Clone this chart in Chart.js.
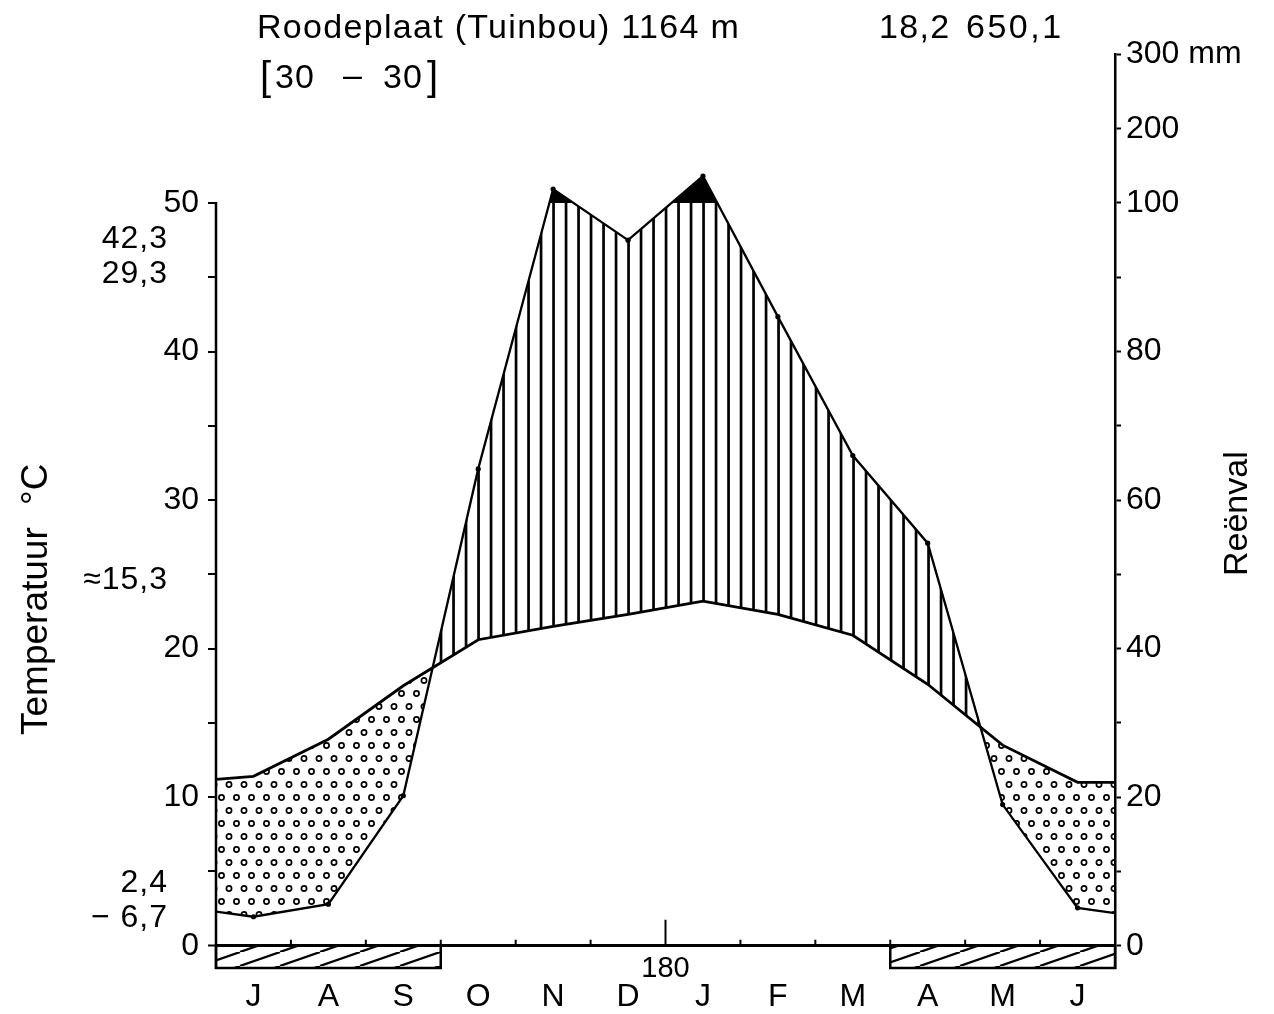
<!DOCTYPE html>
<html>
<head>
<meta charset="utf-8">
<script src="https://cdn.jsdelivr.net/npm/chart.js@4.4.1/dist/chart.umd.min.js"></script>
<style>
  html, body { margin: 0; padding: 0; background: #fff; }
  canvas { display: block; }
</style>
</head>
<body>
<canvas id="klimaat" width="1274" height="1014"></canvas>
<script>
// Klimaatdiagram Roodeplaat (Tuinbou) — Walter-Lieth style, July to June
const months = ['J', 'A', 'S', 'O', 'N', 'D', 'J', 'F', 'M', 'A', 'M', 'J'];
const temperature = [11.4, 13.9, 17.5, 20.6, 21.5, 22.3, 23.2, 22.3, 20.9, 17.6, 13.5, 11.0];   // °C
const temperatureEdges = [11.2, 11.0];                                                              // start / end of year
const precipitation = [3.9, 5.6, 20.2, 64.2, 118.8, 95.0, 136.3, 84.7, 66.0, 54.2, 19.0, 5.1];    // mm
const precipitationEdges = [4.6, 4.4];
const frostMonths = [1, 1, 1, 0, 0, 0, 0, 0, 0, 1, 1, 1];
const temperatureTicks = [0, 5, 10, 15, 20, 25, 30, 35, 40, 45, 50];
const precipitationTicks = [0, 10, 20, 30, 40, 50, 60, 70, 80, 90, 100, 200, 300];

const stationName = 'Roodeplaat (Tuinbou) 1164 m';
const annualMean = '18,2';
const annualRain = '650,1';
const observationYears = ['30', '30'];
const extremes = ['42,3', '29,3', '≈15,3', '2,4', '− 6,7'];
const midYearLabel = '180';

const FONT = '"Liberation Sans", Arial, Helvetica, sans-serif';
const Y_MIN = -1.5, Y_MAX = 60;

// rainfall on the temperature axis: 10 °C = 20 mm, above 100 mm reduced tenfold
const rainToAxis = mm => mm <= 100 ? mm / 2 : 50 + (mm - 100) / 20;
const axisToRain = v => v <= 50 ? v * 2 : 100 + (v - 50) * 20;

const series = (vals, edges, f) => [
  { x: 0, y: f(edges[0]) },
  ...vals.map((v, i) => ({ x: i + 0.5, y: f(v) })),
  { x: months.length, y: f(edges[1]) }
];

function makePattern(w, h, draw) {
  const c = document.createElement('canvas');
  c.width = w; c.height = h;
  const g = c.getContext('2d');
  draw(g);
  return g.createPattern(c, 'repeat');
}
const humidHatch = makePattern(25, 10, g => {
  g.fillStyle = '#000';
  g.fillRect(2.2, 0, 2.7, 10);
  g.fillRect(14.7, 0, 2.7, 10);
});
const aridDots = makePattern(30, 26, g => {
  g.strokeStyle = '#000';
  g.lineWidth = 1.7;
  [[4, 4.5], [19, 4.5], [11.5, 17.5], [26.5, 17.5]].forEach(([x, y]) => {
    g.beginPath(); g.arc(x, y, 2.6, 0, Math.PI * 2); g.stroke();
  });
});
const frostHatch = makePattern(40, 14, g => {
  g.strokeStyle = '#000';
  g.lineWidth = 2.2;
  [-40, 0, 40].forEach(dx => {
    g.beginPath(); g.moveTo(dx, 14); g.lineTo(dx + 40, 0); g.stroke();
  });
});

const tempPoints = series(temperature, temperatureEdges, v => v);
const rainPoints = series(precipitation, precipitationEdges, rainToAxis);

// frost bars: one dataset per run of consecutive frost months
const frostSets = [];
for (let i = 0; i < frostMonths.length; i++) {
  if (frostMonths[i] && (i === 0 || !frostMonths[i - 1])) {
    let j = i;
    while (j < frostMonths.length && frostMonths[j]) j++;
    frostSets.push({
      label: 'frost',
      data: [{ x: i, y: 0 }, { x: i, y: Y_MIN }, { x: j, y: Y_MIN }, { x: j, y: 0 }],
      borderColor: '#000', borderWidth: 2.5, pointRadius: 0,
      backgroundColor: frostHatch, fill: 'origin', tension: 0, clip: 4
    });
  }
}

const lastIdx = rainPoints.length - 1;
const datasets = [
  { // rainfall above 100 mm
    label: 'wet',
    data: rainPoints,
    borderWidth: 0, borderColor: 'rgba(0,0,0,0)', pointRadius: 0,
    fill: { target: { value: 50 }, above: '#000', below: 'rgba(0,0,0,0)' }
  },
  {
    label: 'temperature',
    data: tempPoints,
    borderColor: '#000', borderWidth: 2.8, pointRadius: 0, fill: false, tension: 0
  },
  {
    label: 'precipitation',
    data: rainPoints,
    borderColor: '#000', borderWidth: 2.3, tension: 0,
    pointRadius: c => (c.dataIndex === 0 || c.dataIndex === lastIdx) ? 0 : 2.6,
    pointBackgroundColor: '#000', pointBorderWidth: 0,
    fill: { target: 1, above: humidHatch, below: aridDots }
  },
  ...frostSets
];

const decorations = {
  id: 'decorations',
  afterDatasetsDraw(chart) {
    const { ctx, chartArea, scales } = chart;
    const x = scales.x, y = scales.y;
    const y0 = y.getPixelForValue(0);
    ctx.save();
    ctx.strokeStyle = '#000';
    // temperature axis line up to 50 °C
    ctx.lineWidth = 2.5;
    ctx.beginPath();
    ctx.moveTo(x.left, y.getPixelForValue(50) - 1);
    ctx.lineTo(x.left, chartArea.bottom + 1);
    ctx.stroke();
    // month boundaries; the tall mark is mid-year
    ctx.lineWidth = 2;
    for (let m = 1; m < months.length; m++) {
      const px = x.getPixelForValue(m);
      const len = m === months.length / 2 ? 26 : 6;
      ctx.beginPath(); ctx.moveTo(px, y0); ctx.lineTo(px, y0 - len); ctx.stroke();
    }
    ctx.restore();
  },
  afterDraw(chart) {
    const { ctx, scales } = chart;
    ctx.save();
    ctx.fillStyle = '#000';
    ctx.textBaseline = 'alphabetic';
    ctx.textAlign = 'left';
    ctx.font = '34px ' + FONT;
    ctx.letterSpacing = '1.3px';
    ctx.fillText(stationName, 257, 38);
    ctx.fillText(annualMean, 879, 38);
    ctx.letterSpacing = '2.5px';
    ctx.fillText(annualRain, 966, 38);
    // observation period
    ctx.font = '40px ' + FONT;
    ctx.letterSpacing = '0px';
    ctx.fillText('[', 260, 90);
    ctx.fillText(']', 427, 90);
    ctx.font = '34px ' + FONT;
    ctx.letterSpacing = '1px';
    ctx.fillText(observationYears[0], 275, 88);
    ctx.fillText('–', 343, 86);
    ctx.fillText(observationYears[1], 383, 88);
    // extremes beside the temperature axis
    ctx.textAlign = 'right';
    ctx.font = '32px ' + FONT;
    const noteY = [248, 283, 589, 892, 927];
    extremes.forEach((t, i) => ctx.fillText(t, 168, noteY[i]));
    // mid-year day
    ctx.textAlign = 'center';
    ctx.font = '29px ' + FONT;
    ctx.letterSpacing = '0px';
    ctx.fillText(midYearLabel, scales.x.getPixelForValue(months.length / 2), 977);
    // axis titles
    ctx.textAlign = 'left';
    ctx.save();
    ctx.translate(47, 735);
    ctx.rotate(-Math.PI / 2);
    ctx.font = '37px ' + FONT;
    ctx.fillText('Temperatuur', 0, 0);
    ctx.fillText('°C', 230, 0);
    ctx.restore();
    ctx.font = '34px ' + FONT;
    ctx.save();
    ctx.translate(1247, 576);
    ctx.rotate(-Math.PI / 2);
    ctx.fillText('Reënval', 0, 0);
    ctx.restore();
    ctx.restore();
  }
};

new Chart(document.getElementById('klimaat'), {
  type: 'line',
  data: { datasets },
  options: {
    responsive: false,
    animation: false,
    layout: { padding: { top: 54.45, left: 0, right: 0, bottom: 0 } },
    plugins: { legend: { display: false }, tooltip: { enabled: false } },
    scales: {
      x: {
        type: 'linear', min: 0, max: months.length, position: 'bottom',
        afterBuildTicks: s => { s.ticks = months.map((m, i) => ({ value: i + 0.5 })); },
        ticks: {
          callback: (v, i) => months[i],
          color: '#000', font: { size: 32, family: FONT }, padding: 2,
          maxRotation: 0, autoSkip: false
        },
        grid: { display: false },
        border: { display: false },
        afterFit: s => { s.height = 46; }
      },
      y: {
        type: 'linear', min: Y_MIN, max: Y_MAX, position: 'left',
        afterBuildTicks: s => { s.ticks = temperatureTicks.map(v => ({ value: v })); },
        ticks: {
          callback: v => (v % 10 === 0 ? String(v) : ''),
          color: '#000', font: { size: 32, family: FONT }, padding: 9, autoSkip: false
        },
        grid: {
          drawOnChartArea: true,
          color: c => (c.tick && c.tick.value === 0 ? '#000' : 'rgba(0,0,0,0)'),
          lineWidth: c => (c.tick && c.tick.value === 0 ? 3 : 2),
          tickColor: '#000', tickWidth: 2, tickLength: 8
        },
        border: { display: false },
        afterFit: s => { s.width = 216; }
      },
      y2: {
        type: 'linear', min: Y_MIN, max: Y_MAX, position: 'right',
        afterBuildTicks: s => { s.ticks = precipitationTicks.map(mm => ({ value: rainToAxis(mm) })); },
        ticks: {
          callback: v => {
            const mm = Math.round(axisToRain(v));
            if (mm === 300) return '300 mm';
            return (mm % 20 === 0 || mm > 100) ? String(mm) : '';
          },
          color: '#000', font: { size: 32, family: FONT }, padding: 5, autoSkip: false
        },
        grid: { drawOnChartArea: false, tickColor: '#000', tickWidth: 2, tickLength: 6 },
        border: { display: true, color: '#000', width: 2.5 },
        afterFit: s => { s.width = 159; }
      }
    }
  },
  plugins: [decorations]
});
</script>
</body>
</html>
